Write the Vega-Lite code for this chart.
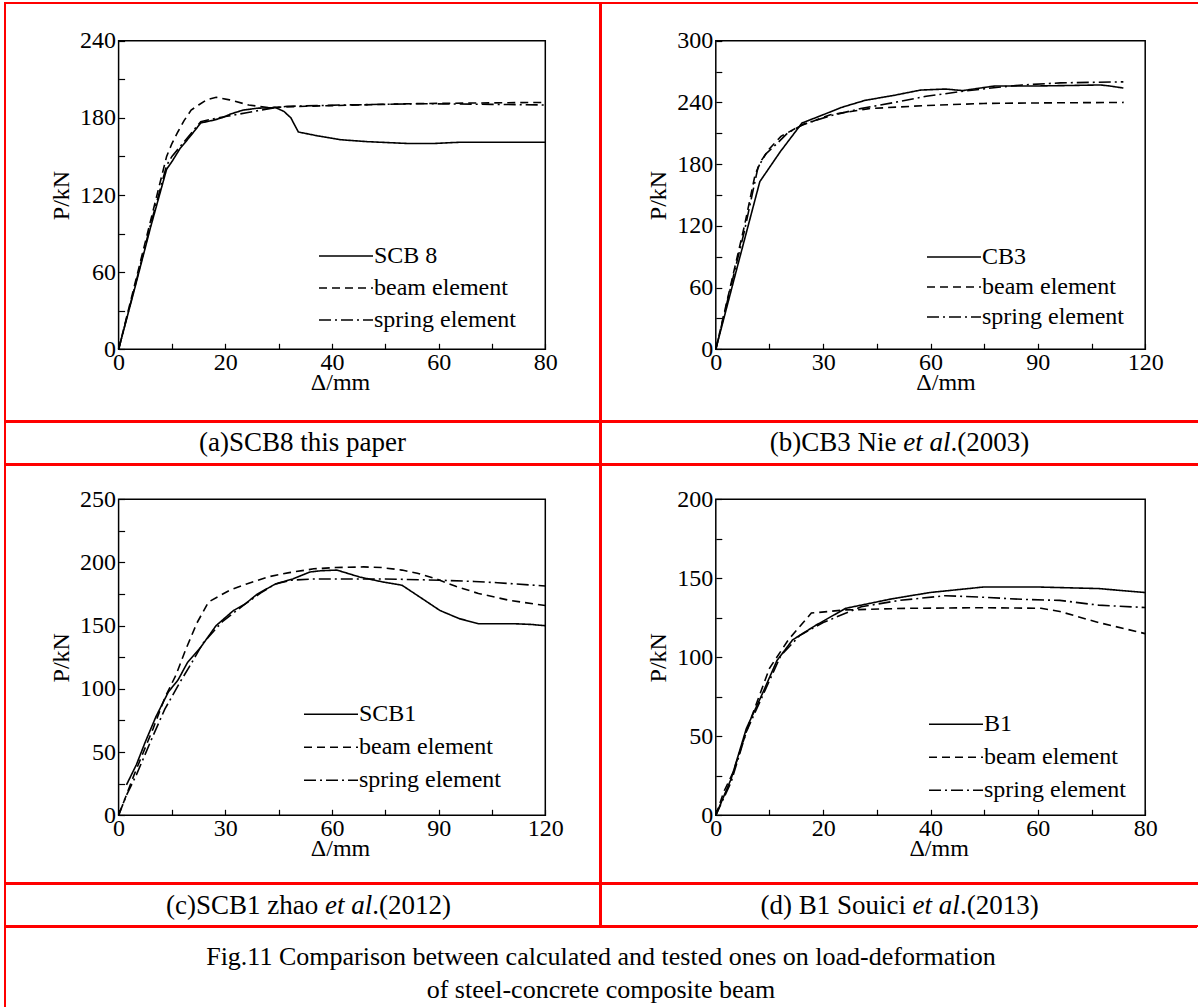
{
  "$schema": "https://vega.github.io/schema/vega-lite/v6.json",
  "background": "white",
  "padding": {"left": 4, "top": 2, "right": 0, "bottom": 0},
  "spacing": -2,
  "config": {
    "font": "Liberation Serif",
    "view": {"stroke": null},
    "axis": {
      "grid": false, "domain": false, "tickSize": -6, "tickColor": "#000", "tickWidth": 1.2,
      "labelFont": "Liberation Serif", "labelFontSize": 24, "labelColor": "#000",
      "titleFont": "Liberation Serif", "titleFontSize": 24, "titleFontWeight": "normal", "titleColor": "#000",
      "labelOverlap": false, "labelFlush": false
    },
    "axisX": {"labelPadding": 7, "labelAngle": 0, "titlePadding": -4},
    "axisY": {"labelPadding": 9, "titlePadding": 6},
    "legend": {
      "orient": "none", "labelFont": "Liberation Serif", "labelFontSize": 24, "labelColor": "#000",
      "labelLimit": 400, "symbolType": "stroke", "symbolSize": 2916, "symbolStrokeColor": "#000",
      "symbolStrokeWidth": 1.6, "labelOffset": 0, "padding": 0, "rowPadding": 0
    },
    "text": {"font": "Liberation Serif", "color": "#000"}
  },
  "resolve": {"scale": {"strokeDash": "independent"}, "legend": {"strokeDash": "independent"}},
  "datasets": {
    "a": [
      {"s":"SCB 8","d":0,"p":0},{"s":"SCB 8","d":3,"p":47},{"s":"SCB 8","d":6,"p":95},{"s":"SCB 8","d":9,"p":140},{"s":"SCB 8","d":10,"p":146},{"s":"SCB 8","d":11.5,"p":156},{"s":"SCB 8","d":13.5,"p":166},{"s":"SCB 8","d":15.4,"p":176},{"s":"SCB 8","d":17.6,"p":178},{"s":"SCB 8","d":19.4,"p":180},{"s":"SCB 8","d":21,"p":183},{"s":"SCB 8","d":23.3,"p":186},{"s":"SCB 8","d":26,"p":187.5},{"s":"SCB 8","d":29.4,"p":188},{"s":"SCB 8","d":31,"p":185},{"s":"SCB 8","d":32.3,"p":180},{"s":"SCB 8","d":33.7,"p":169},{"s":"SCB 8","d":37.3,"p":166},{"s":"SCB 8","d":41.6,"p":163},{"s":"SCB 8","d":46.6,"p":161.5},{"s":"SCB 8","d":54.5,"p":160},{"s":"SCB 8","d":58.8,"p":160},{"s":"SCB 8","d":63.8,"p":161},{"s":"SCB 8","d":80,"p":161},
      {"s":"beam element","d":0,"p":0},{"s":"beam element","d":3,"p":50},{"s":"beam element","d":6,"p":100},{"s":"beam element","d":9,"p":150},{"s":"beam element","d":10,"p":160},{"s":"beam element","d":11.1,"p":169},{"s":"beam element","d":12.3,"p":178},{"s":"beam element","d":13.6,"p":186},{"s":"beam element","d":15,"p":190},{"s":"beam element","d":16.5,"p":194},{"s":"beam element","d":18.3,"p":196},{"s":"beam element","d":20.8,"p":194},{"s":"beam element","d":24.4,"p":190},{"s":"beam element","d":28,"p":188},{"s":"beam element","d":35,"p":189},{"s":"beam element","d":45,"p":190},{"s":"beam element","d":55,"p":191},{"s":"beam element","d":65,"p":191.5},{"s":"beam element","d":80,"p":192},
      {"s":"spring element","d":0,"p":0},{"s":"spring element","d":3,"p":48},{"s":"spring element","d":6,"p":97},{"s":"spring element","d":9,"p":143},{"s":"spring element","d":10,"p":150},{"s":"spring element","d":12,"p":160},{"s":"spring element","d":15.4,"p":177},{"s":"spring element","d":17.5,"p":179},{"s":"spring element","d":20,"p":181},{"s":"spring element","d":24,"p":184},{"s":"spring element","d":28,"p":187},{"s":"spring element","d":31.6,"p":189},{"s":"spring element","d":42,"p":190},{"s":"spring element","d":56.7,"p":191},{"s":"spring element","d":70,"p":190.5},{"s":"spring element","d":80,"p":190}
    ],
    "b": [
      {"s":"CB3","d":0,"p":0},{"s":"CB3","d":6,"p":80},{"s":"CB3","d":12.3,"p":163},{"s":"CB3","d":18,"p":192},{"s":"CB3","d":24.1,"p":220},{"s":"CB3","d":30,"p":228},{"s":"CB3","d":35,"p":235},{"s":"CB3","d":41.7,"p":242},{"s":"CB3","d":50,"p":247},{"s":"CB3","d":57.2,"p":252},{"s":"CB3","d":64.2,"p":253},{"s":"CB3","d":69,"p":251.5},{"s":"CB3","d":73,"p":253.5},{"s":"CB3","d":78,"p":256},{"s":"CB3","d":90,"p":256},{"s":"CB3","d":100,"p":256.5},{"s":"CB3","d":107.5,"p":257},{"s":"CB3","d":110,"p":256},{"s":"CB3","d":113.9,"p":254},
      {"s":"beam element","d":0,"p":0},{"s":"beam element","d":4,"p":60},{"s":"beam element","d":8,"p":120},{"s":"beam element","d":11,"p":170},{"s":"beam element","d":12.8,"p":184},{"s":"beam element","d":15,"p":195},{"s":"beam element","d":18.2,"p":207},{"s":"beam element","d":23.5,"p":217},{"s":"beam element","d":32,"p":228},{"s":"beam element","d":42.8,"p":234},{"s":"beam element","d":58.8,"p":237},{"s":"beam element","d":74.9,"p":239},{"s":"beam element","d":90,"p":239.5},{"s":"beam element","d":114,"p":240},
      {"s":"spring element","d":0,"p":0},{"s":"spring element","d":4,"p":58},{"s":"spring element","d":8,"p":115},{"s":"spring element","d":11.8,"p":177},{"s":"spring element","d":14,"p":190},{"s":"spring element","d":17.1,"p":200},{"s":"spring element","d":20,"p":210},{"s":"spring element","d":24.6,"p":219},{"s":"spring element","d":32,"p":227},{"s":"spring element","d":40.5,"p":234},{"s":"spring element","d":50,"p":240},{"s":"spring element","d":58.8,"p":246},{"s":"spring element","d":69.5,"p":251},{"s":"spring element","d":77,"p":254},{"s":"spring element","d":85.6,"p":257},{"s":"spring element","d":96.3,"p":259},{"s":"spring element","d":105,"p":259.5},{"s":"spring element","d":113.9,"p":260}
    ],
    "c": [
      {"s":"SCB1","d":2.2,"p":24},{"s":"SCB1","d":5,"p":40},{"s":"SCB1","d":7.5,"p":58},{"s":"SCB1","d":10.5,"p":78},{"s":"SCB1","d":14,"p":97.6},{"s":"SCB1","d":16.7,"p":107},{"s":"SCB1","d":19.4,"p":121},{"s":"SCB1","d":23.1,"p":133},{"s":"SCB1","d":27.4,"p":150},{"s":"SCB1","d":32.3,"p":162},{"s":"SCB1","d":35.5,"p":167},{"s":"SCB1","d":39,"p":175},{"s":"SCB1","d":44.1,"p":183},{"s":"SCB1","d":49,"p":187},{"s":"SCB1","d":53.8,"p":192.5},{"s":"SCB1","d":57,"p":193.5},{"s":"SCB1","d":61.4,"p":194},{"s":"SCB1","d":67.8,"p":188.5},{"s":"SCB1","d":74.3,"p":184.6},{"s":"SCB1","d":79.7,"p":182},{"s":"SCB1","d":84,"p":174},{"s":"SCB1","d":90.4,"p":162},{"s":"SCB1","d":95.8,"p":155.6},{"s":"SCB1","d":101.2,"p":151.6},{"s":"SCB1","d":110.9,"p":151.6},{"s":"SCB1","d":116,"p":151},{"s":"SCB1","d":120,"p":150},
      {"s":"beam element","d":0,"p":0},{"s":"beam element","d":4.5,"p":33},{"s":"beam element","d":9.7,"p":68.6},{"s":"beam element","d":13,"p":93},{"s":"beam element","d":16.1,"p":110.8},{"s":"beam element","d":19,"p":132},{"s":"beam element","d":22,"p":152},{"s":"beam element","d":25.3,"p":168.8},{"s":"beam element","d":28,"p":173},{"s":"beam element","d":31.2,"p":178},{"s":"beam element","d":36,"p":183},{"s":"beam element","d":42,"p":188.6},{"s":"beam element","d":48,"p":192},{"s":"beam element","d":54.9,"p":195},{"s":"beam element","d":61,"p":196},{"s":"beam element","d":68.9,"p":196.5},{"s":"beam element","d":74,"p":196},{"s":"beam element","d":79.7,"p":194},{"s":"beam element","d":84,"p":191.5},{"s":"beam element","d":89.3,"p":187},{"s":"beam element","d":95,"p":181},{"s":"beam element","d":101.2,"p":175.5},{"s":"beam element","d":110,"p":170},{"s":"beam element","d":120,"p":166},
      {"s":"spring element","d":0,"p":0},{"s":"spring element","d":2.2,"p":15.8},{"s":"spring element","d":5,"p":32},{"s":"spring element","d":9.7,"p":63},{"s":"spring element","d":13,"p":84},{"s":"spring element","d":17.2,"p":105},{"s":"spring element","d":20,"p":118},{"s":"spring element","d":23.7,"p":136},{"s":"spring element","d":29.1,"p":153},{"s":"spring element","d":35.5,"p":167},{"s":"spring element","d":40,"p":176},{"s":"spring element","d":44.1,"p":183},{"s":"spring element","d":48.4,"p":186},{"s":"spring element","d":55,"p":187},{"s":"spring element","d":63.5,"p":187},{"s":"spring element","d":75,"p":187},{"s":"spring element","d":90.4,"p":186},{"s":"spring element","d":100,"p":185},{"s":"spring element","d":106.6,"p":184},{"s":"spring element","d":120,"p":181.4}
    ],
    "d": [
      {"s":"B1","d":0,"p":0},{"s":"B1","d":2.85,"p":23},{"s":"B1","d":5.7,"p":55},{"s":"B1","d":8.55,"p":76},{"s":"B1","d":11.4,"p":98},{"s":"B1","d":14.3,"p":111},{"s":"B1","d":18.5,"p":120},{"s":"B1","d":24.2,"p":131},{"s":"B1","d":32.8,"p":137},{"s":"B1","d":39.9,"p":141},{"s":"B1","d":49.9,"p":144.5},{"s":"B1","d":59.9,"p":144.5},{"s":"B1","d":71.3,"p":143.5},{"s":"B1","d":80,"p":141},
      {"s":"beam element","d":0,"p":0},{"s":"beam element","d":1.5,"p":15},{"s":"beam element","d":3.2,"p":27},{"s":"beam element","d":6.4,"p":60},{"s":"beam element","d":10,"p":93},{"s":"beam element","d":13.5,"p":111},{"s":"beam element","d":17.8,"p":128},{"s":"beam element","d":24.2,"p":130},{"s":"beam element","d":35.6,"p":131},{"s":"beam element","d":49.9,"p":131.4},{"s":"beam element","d":60.6,"p":131},{"s":"beam element","d":64.1,"p":129},{"s":"beam element","d":71.3,"p":122},{"s":"beam element","d":80,"p":115},
      {"s":"spring element","d":0,"p":0},{"s":"spring element","d":2.85,"p":21},{"s":"spring element","d":5.7,"p":53},{"s":"spring element","d":9.3,"p":80},{"s":"spring element","d":12.1,"p":101},{"s":"spring element","d":15.7,"p":114},{"s":"spring element","d":20,"p":122},{"s":"spring element","d":27.1,"p":132},{"s":"spring element","d":34.2,"p":136},{"s":"spring element","d":42.8,"p":139},{"s":"spring element","d":49.9,"p":138},{"s":"spring element","d":57,"p":136.7},{"s":"spring element","d":64.1,"p":136},{"s":"spring element","d":71.3,"p":133},{"s":"spring element","d":80,"p":131.5}
    ]
  },
  "vconcat": [
    {
      "spacing": -2,
      "resolve": {"scale": {"strokeDash": "independent"}, "legend": {"strokeDash": "independent"}},
      "hconcat": [
        {
          "width": 595, "height": 418,
          "view": {"stroke": "#ff0000", "strokeWidth": 2},
          "layer": [
            {
              "data": {"name": "a"},
              "mark": {"type": "line", "color": "#000", "strokeWidth": 1.6},
              "encoding": {
                "x": {"field": "d", "type": "quantitative",
                  "scale": {"domain": [0, 80], "range": [113.6, 540.3], "nice": false, "zero": false},
                  "axis": {"values": [0,10,20,30,40,50,60,70,80], "labelExpr": "datum.value % 20 == 0 ? datum.label : ''", "offset": -71.7, "title": "Δ/mm", "titleX": 335}},
                "y": {"field": "p", "type": "quantitative",
                  "scale": {"domain": [0, 240], "range": [346.3, 37.7], "nice": false, "zero": false},
                  "axis": {"values": [0,30,60,90,120,150,180,210,240], "labelExpr": "datum.value % 60 == 0 ? datum.label : ''", "offset": -113.6, "title": "P/kN"}},
                "strokeDash": {"field": "s", "type": "nominal",
                  "scale": {"domain": ["SCB 8", "beam element", "spring element"], "range": [[1, 0], [8, 5], [12, 4, 2, 4]]},
                  "legend": {"title": null, "legendX": 313, "legendY": 237, "clipHeight": 32}}
              }
            },
            {
              "data": {"values": [{}]},
              "mark": {"type": "rect", "fill": null, "stroke": "#000", "strokeWidth": 1.5},
              "encoding": {
                "x": {"datum": 0, "type": "quantitative"}, "x2": {"datum": 80},
                "y": {"datum": 0, "type": "quantitative"}, "y2": {"datum": 240}
              }
            }
          ]
        },
        {
          "width": 597, "height": 418,
          "view": {"stroke": "#ff0000", "strokeWidth": 2, "strokeDash": [597, 418, 1015, 0]},
          "layer": [
            {
              "data": {"name": "b"},
              "mark": {"type": "line", "color": "#000", "strokeWidth": 1.6},
              "encoding": {
                "x": {"field": "d", "type": "quantitative",
                  "scale": {"domain": [0, 120], "range": [114.8, 544.2], "nice": false, "zero": false},
                  "axis": {"values": [0,15,30,45,60,75,90,105,120], "labelExpr": "datum.value % 30 == 0 ? datum.label : ''", "offset": -71.7, "title": "Δ/mm", "titleX": 344.5}},
                "y": {"field": "p", "type": "quantitative",
                  "scale": {"domain": [0, 300], "range": [346.3, 37.7], "nice": false, "zero": false},
                  "axis": {"values": [0,30,60,90,120,150,180,210,240,270,300], "labelExpr": "datum.value % 60 == 0 ? datum.label : ''", "offset": -114.8, "title": "P/kN"}},
                "strokeDash": {"field": "s", "type": "nominal",
                  "scale": {"domain": ["CB3", "beam element", "spring element"], "range": [[1, 0], [8, 5], [12, 4, 2, 4]]},
                  "legend": {"title": null, "legendX": 325, "legendY": 239, "clipHeight": 30}}
              }
            },
            {
              "data": {"values": [{}]},
              "mark": {"type": "rect", "fill": null, "stroke": "#000", "strokeWidth": 1.5},
              "encoding": {
                "x": {"datum": 0, "type": "quantitative"}, "x2": {"datum": 120},
                "y": {"datum": 0, "type": "quantitative"}, "y2": {"datum": 300}
              }
            }
          ]
        }
      ]
    },
    {
      "spacing": -2,
      "hconcat": [
        {
          "width": 595, "height": 42,
          "view": {"stroke": "#ff0000", "strokeWidth": 2},
          "data": {"values": [{"t": "(a)SCB8 this paper"}]},
          "mark": {"type": "text", "fontSize": 27, "align": "center", "baseline": "middle"},
          "encoding": {"text": {"field": "t"},
            "x": {"datum": 0.5, "type": "quantitative", "scale": {"domain": [0, 1]}, "axis": null},
            "y": {"datum": 0.5, "type": "quantitative", "scale": {"domain": [0, 1]}, "axis": null}}
        },
        {
          "width": 597, "height": 42,
          "view": {"stroke": "#ff0000", "strokeWidth": 2, "strokeDash": [597, 42, 639, 0]},
          "data": {"values": [{"a": "(b)CB3 Nie", "b": "et al", "c": ".(2003)"}]},
          "encoding": {
            "x": {"datum": 0.5, "type": "quantitative", "scale": {"domain": [0, 1]}, "axis": null},
            "y": {"datum": 0.5, "type": "quantitative", "scale": {"domain": [0, 1]}, "axis": null}},
          "layer": [
            {"mark": {"type": "text", "fontSize": 27, "align": "right", "baseline": "middle", "dx": -3.0},
             "encoding": {"text": {"field": "a"}}},
            {"mark": {"type": "text", "fontSize": 27, "align": "left", "baseline": "middle", "dx": 3.75, "fontStyle": "italic"},
             "encoding": {"text": {"field": "b"}}},
            {"mark": {"type": "text", "fontSize": 27, "align": "left", "baseline": "middle", "dx": 51.0},
             "encoding": {"text": {"field": "c"}}}
          ]
        }
      ]
    },
    {
      "spacing": -2,
      "resolve": {"scale": {"strokeDash": "independent"}, "legend": {"strokeDash": "independent"}},
      "hconcat": [
        {
          "width": 595, "height": 418,
          "view": {"stroke": "#ff0000", "strokeWidth": 2},
          "layer": [
            {
              "data": {"name": "c"},
              "mark": {"type": "line", "color": "#000", "strokeWidth": 1.6},
              "encoding": {
                "x": {"field": "d", "type": "quantitative",
                  "scale": {"domain": [0, 120], "range": [113.6, 540.3], "nice": false, "zero": false},
                  "axis": {"values": [0,15,30,45,60,75,90,105,120], "labelExpr": "datum.value % 30 == 0 ? datum.label : ''", "offset": -67.7, "title": "Δ/mm", "titleX": 335}},
                "y": {"field": "p", "type": "quantitative",
                  "scale": {"domain": [0, 250], "range": [350.3, 34.3], "nice": false, "zero": false},
                  "axis": {"values": [0,25,50,75,100,125,150,175,200,225,250], "labelExpr": "datum.value % 50 == 0 ? datum.label : ''", "offset": -113.6, "title": "P/kN"}},
                "strokeDash": {"field": "s", "type": "nominal",
                  "scale": {"domain": ["SCB1", "beam element", "spring element"], "range": [[1, 0], [8, 5], [12, 4, 2, 4]]},
                  "legend": {"title": null, "legendX": 298, "legendY": 233, "clipHeight": 32.5}}
              }
            },
            {
              "data": {"values": [{}]},
              "mark": {"type": "rect", "fill": null, "stroke": "#000", "strokeWidth": 1.5},
              "encoding": {
                "x": {"datum": 0, "type": "quantitative"}, "x2": {"datum": 120},
                "y": {"datum": 0, "type": "quantitative"}, "y2": {"datum": 250}
              }
            }
          ]
        },
        {
          "width": 597, "height": 418,
          "view": {"stroke": "#ff0000", "strokeWidth": 2, "strokeDash": [597, 418, 1015, 0]},
          "layer": [
            {
              "data": {"name": "d"},
              "mark": {"type": "line", "color": "#000", "strokeWidth": 1.6},
              "encoding": {
                "x": {"field": "d", "type": "quantitative",
                  "scale": {"domain": [0, 80], "range": [114.8, 544.2], "nice": false, "zero": false},
                  "axis": {"values": [0,10,20,30,40,50,60,70,80], "labelExpr": "datum.value % 20 == 0 ? datum.label : ''", "offset": -67.7, "title": "Δ/mm", "titleX": 337.6}},
                "y": {"field": "p", "type": "quantitative",
                  "scale": {"domain": [0, 200], "range": [350.3, 34.3], "nice": false, "zero": false},
                  "axis": {"values": [0,25,50,75,100,125,150,175,200], "labelExpr": "datum.value % 50 == 0 ? datum.label : ''", "offset": -114.8, "title": "P/kN"}},
                "strokeDash": {"field": "s", "type": "nominal",
                  "scale": {"domain": ["B1", "beam element", "spring element"], "range": [[1, 0], [8, 5], [12, 4, 2, 4]]},
                  "legend": {"title": null, "legendX": 327, "legendY": 243, "clipHeight": 32.5}}
              }
            },
            {
              "data": {"values": [{}]},
              "mark": {"type": "rect", "fill": null, "stroke": "#000", "strokeWidth": 1.5},
              "encoding": {
                "x": {"datum": 0, "type": "quantitative"}, "x2": {"datum": 80},
                "y": {"datum": 0, "type": "quantitative"}, "y2": {"datum": 200}
              }
            }
          ]
        }
      ]
    },
    {
      "spacing": -2,
      "hconcat": [
        {
          "width": 595, "height": 42,
          "view": {"stroke": "#ff0000", "strokeWidth": 2},
          "data": {"values": [{"a": "(c)SCB1 zhao", "b": "et al", "c": ".(2012)"}]},
          "encoding": {
            "x": {"datum": 0.5, "type": "quantitative", "scale": {"domain": [0, 1]}, "axis": null},
            "y": {"datum": 0.47, "type": "quantitative", "scale": {"domain": [0, 1]}, "axis": null}},
          "layer": [
            {"mark": {"type": "text", "fontSize": 27, "align": "right", "baseline": "middle", "dx": 15.8},
             "encoding": {"text": {"field": "a"}}},
            {"mark": {"type": "text", "fontSize": 27, "align": "left", "baseline": "middle", "dx": 22.6, "fontStyle": "italic"},
             "encoding": {"text": {"field": "b"}}},
            {"mark": {"type": "text", "fontSize": 27, "align": "left", "baseline": "middle", "dx": 69.8},
             "encoding": {"text": {"field": "c"}}}
          ]
        },
        {
          "width": 597, "height": 42,
          "view": {"stroke": "#ff0000", "strokeWidth": 2, "strokeDash": [597, 42, 639, 0]},
          "data": {"values": [{"a": "(d) B1 Souici", "b": "et al", "c": ".(2013)"}]},
          "encoding": {
            "x": {"datum": 0.5, "type": "quantitative", "scale": {"domain": [0, 1]}, "axis": null},
            "y": {"datum": 0.47, "type": "quantitative", "scale": {"domain": [0, 1]}, "axis": null}},
          "layer": [
            {"mark": {"type": "text", "fontSize": 27, "align": "right", "baseline": "middle", "dx": 6.4},
             "encoding": {"text": {"field": "a"}}},
            {"mark": {"type": "text", "fontSize": 27, "align": "left", "baseline": "middle", "dx": 13.1, "fontStyle": "italic"},
             "encoding": {"text": {"field": "b"}}},
            {"mark": {"type": "text", "fontSize": 27, "align": "left", "baseline": "middle", "dx": 60.4},
             "encoding": {"text": {"field": "c"}}}
          ]
        }
      ]
    },
    {
      "width": 1192, "height": 84,
      "view": {"stroke": "#ff0000", "strokeWidth": 2, "strokeDash": [1192, 1276, 84, 0]},
      "data": {"values": [{"t": "Fig.11 Comparison between calculated and tested ones on load-deformation\nof steel-concrete composite beam"}]},
      "mark": {"type": "text", "fontSize": 26, "align": "center", "baseline": "middle", "lineBreak": "\n", "lineHeight": 33},
      "encoding": {"text": {"field": "t"},
        "x": {"datum": 0.5, "type": "quantitative", "scale": {"domain": [0, 1]}, "axis": null},
        "y": {"datum": 0.643, "type": "quantitative", "scale": {"domain": [0, 1]}, "axis": null}}
    }
  ]
}
